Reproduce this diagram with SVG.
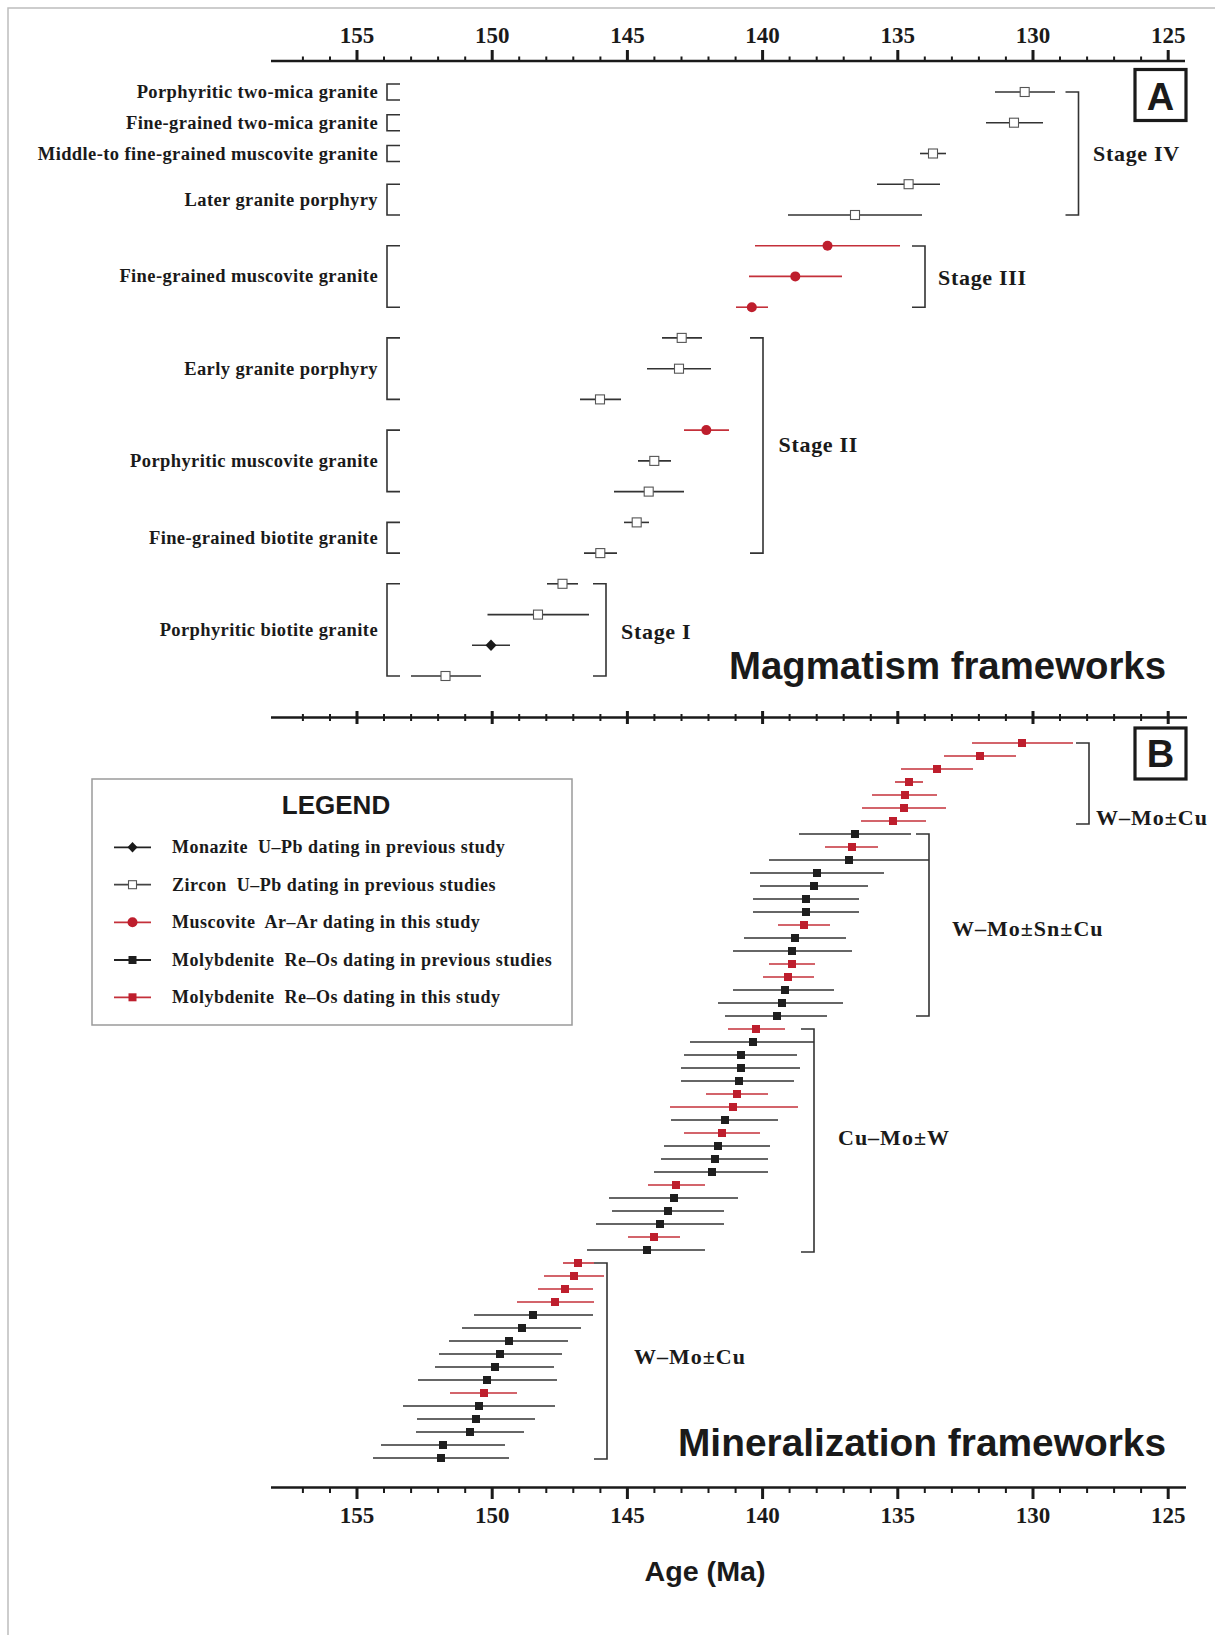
<svg xmlns="http://www.w3.org/2000/svg" xmlns:xlink="http://www.w3.org/1999/xlink" width="1215" height="1635" viewBox="0 0 1215 1635">
<style>
.frame{fill:none;stroke:#bdbdbd;stroke-width:1.5}
.axis{stroke:#1a1a1a;stroke-width:2.6;fill:none}
.tmin{stroke:#1a1a1a;stroke-width:2;fill:none}
.tmaj{stroke:#1a1a1a;stroke-width:3;fill:none}
.num{font-family:"Liberation Serif","Times New Roman",serif;font-weight:bold;font-size:23px;text-anchor:middle;fill:#1a1a1a}
.big{font-family:"Liberation Sans",Arial,sans-serif;font-weight:bold;fill:#1a1a1a}
.lbl{font-family:"Liberation Serif","Times New Roman",serif;font-weight:bold;font-size:18.5px;letter-spacing:0.4px;text-anchor:end;fill:#1a1a1a}
.stg{font-family:"Liberation Serif","Times New Roman",serif;font-weight:bold;font-size:22px;letter-spacing:0.7px;fill:#1a1a1a}
.min{font-family:"Liberation Serif","Times New Roman",serif;font-weight:bold;font-size:22px;letter-spacing:1px;fill:#1a1a1a}
.leg{font-family:"Liberation Serif","Times New Roman",serif;font-weight:bold;font-size:18px;letter-spacing:0.5px;fill:#1a1a1a}
.bar{stroke:#333;stroke-width:1.6;fill:none}
.rbar{stroke:#c4303a;stroke-width:1.6;fill:none}
.zr{fill:#fff;stroke:#555;stroke-width:1.1}
.rc{fill:#be1e2d}
.dm{fill:#1a1a1a}
.ks{fill:#1e1e1e}
.rs{fill:#be1e2d}
.brk{fill:none;stroke:#333;stroke-width:1.6}
.box{fill:none;stroke:#1a1a1a;stroke-width:3.2}
</style>
<rect width="1215" height="1635" fill="#fff"/>
<rect class="frame" x="8" y="8" width="1300" height="1700"/>

<!-- Axes -->
<g id="axis-top">
<path class="axis" d="M271,61H1185"/>
<path class="tmin" d="M302.9,56.5V61M330,56.5V61M384,56.5V61M411.1,56.5V61M438.1,56.5V61M465.2,56.5V61M519.2,56.5V61M546.3,56.5V61M573.3,56.5V61M600.4,56.5V61M654.4,56.5V61M681.5,56.5V61M708.5,56.5V61M735.6,56.5V61M789.6,56.5V61M816.7,56.5V61M843.7,56.5V61M870.8,56.5V61M924.8,56.5V61M951.9,56.5V61M978.9,56.5V61M1005.9,56.5V61M1060,56.5V61M1087.1,56.5V61M1114.1,56.5V61M1141.1,56.5V61"/>
<path class="tmaj" d="M357,50V61M492.2,50V61M627.4,50V61M762.6,50V61M897.8,50V61M1033,50V61M1168.2,50V61"/>
<text class="num" x="357" y="42.5">155</text>
<text class="num" x="492.2" y="42.5">150</text>
<text class="num" x="627.4" y="42.5">145</text>
<text class="num" x="762.6" y="42.5">140</text>
<text class="num" x="897.8" y="42.5">135</text>
<text class="num" x="1033" y="42.5">130</text>
<text class="num" x="1168.2" y="42.5">125</text>
</g>
<g id="axis-mid">
<path class="axis" d="M271,717.5H1187"/>
<path class="tmin" d="M302.9,714V721M330,714V721M384,714V721M411.1,714V721M438.1,714V721M465.2,714V721M519.2,714V721M546.3,714V721M573.3,714V721M600.4,714V721M654.4,714V721M681.5,714V721M708.5,714V721M735.6,714V721M789.6,714V721M816.7,714V721M843.7,714V721M870.8,714V721M924.8,714V721M951.9,714V721M978.9,714V721M1005.9,714V721M1060,714V721M1087.1,714V721M1114.1,714V721M1141.1,714V721"/>
<path class="tmaj" d="M357,711V724M492.2,711V724M627.4,711V724M762.6,711V724M897.8,711V724M1033,711V724M1168.2,711V724"/>
</g>
<g id="axis-bottom">
<path class="axis" d="M271,1487.5H1186"/>
<path class="tmin" d="M302.9,1487.5V1493M330,1487.5V1493M384,1487.5V1493M411.1,1487.5V1493M438.1,1487.5V1493M465.2,1487.5V1493M519.2,1487.5V1493M546.3,1487.5V1493M573.3,1487.5V1493M600.4,1487.5V1493M654.4,1487.5V1493M681.5,1487.5V1493M708.5,1487.5V1493M735.6,1487.5V1493M789.6,1487.5V1493M816.7,1487.5V1493M843.7,1487.5V1493M870.8,1487.5V1493M924.8,1487.5V1493M951.9,1487.5V1493M978.9,1487.5V1493M1005.9,1487.5V1493M1060,1487.5V1493M1087.1,1487.5V1493M1114.1,1487.5V1493M1141.1,1487.5V1493"/>
<path class="tmaj" d="M357,1487.5V1499M492.2,1487.5V1499M627.4,1487.5V1499M762.6,1487.5V1499M897.8,1487.5V1499M1033,1487.5V1499M1168.2,1487.5V1499"/>
<text class="num" x="357" y="1523">155</text>
<text class="num" x="492.2" y="1523">150</text>
<text class="num" x="627.4" y="1523">145</text>
<text class="num" x="762.6" y="1523">140</text>
<text class="num" x="897.8" y="1523">135</text>
<text class="num" x="1033" y="1523">130</text>
<text class="num" x="1168.2" y="1523">125</text>
<text class="big" x="705" y="1581" font-size="28" text-anchor="middle" textLength="121" lengthAdjust="spacingAndGlyphs">Age (Ma)</text>
</g>

<!-- Panel labels -->
<g id="panel-A">
<rect class="box" x="1135" y="69.5" width="51" height="51"/>
<text class="big" x="1160.5" y="110" font-size="38" text-anchor="middle">A</text>
</g>
<g id="panel-B">
<rect class="box" x="1135" y="728" width="51" height="51"/>
<text class="big" x="1160.5" y="767" font-size="38" text-anchor="middle">B</text>
</g>
<g id="title-A"><text class="big" x="1166" y="679" font-size="38" text-anchor="end" textLength="437" lengthAdjust="spacingAndGlyphs">Magmatism frameworks</text></g>
<g id="title-B"><text class="big" x="1166" y="1456" font-size="38" text-anchor="end" textLength="488" lengthAdjust="spacingAndGlyphs">Mineralization frameworks</text></g>

<!-- Rock labels -->
<g id="rock-labels">
<text class="lbl" x="378" y="98">Porphyritic two-mica granite</text>
<text class="lbl" x="378" y="128.7">Fine-grained two-mica granite</text>
<text class="lbl" x="378" y="159.5">Middle-to fine-grained muscovite granite</text>
<text class="lbl" x="378" y="205.6">Later granite porphyry</text>
<text class="lbl" x="378" y="282.4">Fine-grained muscovite granite</text>
<text class="lbl" x="378" y="374.7">Early granite porphyry</text>
<text class="lbl" x="378" y="466.9">Porphyritic muscovite granite</text>
<text class="lbl" x="378" y="543.7">Fine-grained biotite granite</text>
<text class="lbl" x="378" y="635.9">Porphyritic biotite granite</text>
</g>

<!-- Connectors: brackets -->
<g id="connectors">
<path class="brk" d="M400,84H387V100H400"/>
<path class="brk" d="M400,114.7H387V130.7H400"/>
<path class="brk" d="M400,145.5H387V161.5H400"/>
<path class="brk" d="M400,184.2H387V215H400"/>
<path class="brk" d="M400,245.7H387V307.2H400"/>
<path class="brk" d="M400,337.9H387V399.4H400"/>
<path class="brk" d="M400,430.1H387V491.6H400"/>
<path class="brk" d="M400,522.4H387V553.1H400"/>
<path class="brk" d="M400,583.8H387V676H400"/>
<path class="brk" d="M1065.5,92H1078.5V215H1065.5"/>
<path class="brk" d="M912,246H925V307.2H912"/>
<path class="brk" d="M750,337.9H763V553.1H750"/>
<path class="brk" d="M593,583.8H606V676H593"/>
<path class="brk" d="M1076,743H1089V824H1076"/>
<path class="brk" d="M916,834H929V1016H916"/>
<path class="brk" d="M801,1029H814V1252H801"/>
<path class="brk" d="M594,1263H607V1459H594"/>
</g>

<!-- Stage labels -->
<g id="stage-labels">
<text class="stg" x="1093" y="161">Stage IV</text>
<text class="stg" x="938" y="285">Stage III</text>
<text class="stg" x="778.5" y="451.5">Stage II</text>
<text class="stg" x="621" y="639">Stage I</text>
</g>
<g id="ore-labels">
<text class="min" x="1096" y="825">W–Mo±Cu</text>
<text class="min" x="952" y="936">W–Mo±Sn±Cu</text>
<text class="min" x="838" y="1145">Cu–Mo±W</text>
<text class="min" x="634" y="1364">W–Mo±Cu</text>
</g>

<!-- Panel A data -->
<g id="a-data">
<g id="a0"><path class="bar" d="M995,92H1055"/><rect class="zr" x="1020.2" y="87.5" width="9" height="9"/></g>
<g id="a1"><path class="bar" d="M986,122.7H1043"/><rect class="zr" x="1009.5" y="118.2" width="9" height="9"/></g>
<g id="a2"><path class="bar" d="M920,153.5H946"/><rect class="zr" x="928.5" y="149" width="9" height="9"/></g>
<g id="a3"><path class="bar" d="M877,184.2H940"/><rect class="zr" x="904.1" y="179.7" width="9" height="9"/></g>
<g id="a4"><path class="bar" d="M788,215H922"/><rect class="zr" x="850.5" y="210.5" width="9" height="9"/></g>
<g id="a5"><path class="rbar" d="M755,245.7H900"/><circle class="rc" cx="827.5" cy="245.7" r="5"/></g>
<g id="a6"><path class="rbar" d="M749,276.4H842"/><circle class="rc" cx="795.3" cy="276.4" r="5"/></g>
<g id="a7"><path class="rbar" d="M736,307.2H768"/><circle class="rc" cx="751.8" cy="307.2" r="5"/></g>
<g id="a8"><path class="bar" d="M662,337.9H702"/><rect class="zr" x="677.2" y="333.4" width="9" height="9"/></g>
<g id="a9"><path class="bar" d="M647,368.7H711"/><rect class="zr" x="674.5" y="364.2" width="9" height="9"/></g>
<g id="a10"><path class="bar" d="M580,399.4H621"/><rect class="zr" x="595.5" y="394.9" width="9" height="9"/></g>
<g id="a11"><path class="rbar" d="M684,430.1H729"/><circle class="rc" cx="706.3" cy="430.1" r="5"/></g>
<g id="a12"><path class="bar" d="M638,460.9H671"/><rect class="zr" x="649.8" y="456.4" width="9" height="9"/></g>
<g id="a13"><path class="bar" d="M614,491.6H684"/><rect class="zr" x="644.2" y="487.1" width="9" height="9"/></g>
<g id="a14"><path class="bar" d="M624,522.4H649"/><rect class="zr" x="632.2" y="517.9" width="9" height="9"/></g>
<g id="a15"><path class="bar" d="M584,553.1H617"/><rect class="zr" x="595.8" y="548.6" width="9" height="9"/></g>
<g id="a16"><path class="bar" d="M547,583.8H578"/><rect class="zr" x="558" y="579.3" width="9" height="9"/></g>
<g id="a17"><path class="bar" d="M487.5,614.6H589"/><rect class="zr" x="533.5" y="610.1" width="9" height="9"/></g>
<g id="a18"><path class="bar" d="M472,645.3H510"/><path class="dm" d="M491,639.5L496.5,645.3L491,651.1L485.5,645.3Z"/></g>
<g id="a19"><path class="bar" d="M411,676H481"/><rect class="zr" x="441" y="671.5" width="9" height="9"/></g>
</g>

<!-- Panel B data -->
<g id="b-data">
<g id="b1"><path class="rbar" d="M972,743H1073"/><rect class="rs" x="1018" y="739" width="8" height="8"/></g>
<g id="b2"><path class="rbar" d="M944,756H1016"/><rect class="rs" x="976" y="752" width="8" height="8"/></g>
<g id="b3"><path class="rbar" d="M901,769H973"/><rect class="rs" x="933" y="765" width="8" height="8"/></g>
<g id="b4"><path class="rbar" d="M895,782H923"/><rect class="rs" x="905" y="778" width="8" height="8"/></g>
<g id="b5"><path class="rbar" d="M872,795H937"/><rect class="rs" x="901" y="791" width="8" height="8"/></g>
<g id="b6"><path class="rbar" d="M862,808H946"/><rect class="rs" x="900" y="804" width="8" height="8"/></g>
<g id="b7"><path class="rbar" d="M861,821H926"/><rect class="rs" x="889" y="817" width="8" height="8"/></g>
<g id="b8"><path class="bar" d="M799,834H911"/><rect class="ks" x="851" y="830" width="8" height="8"/></g>
<g id="b9"><path class="rbar" d="M825,847H878"/><rect class="rs" x="848" y="843" width="8" height="8"/></g>
<g id="b10"><path class="bar" d="M769,860H929"/><rect class="ks" x="845" y="856" width="8" height="8"/></g>
<g id="b11"><path class="bar" d="M750,873H884"/><rect class="ks" x="813" y="869" width="8" height="8"/></g>
<g id="b12"><path class="bar" d="M760,886H868"/><rect class="ks" x="810" y="882" width="8" height="8"/></g>
<g id="b13"><path class="bar" d="M753,899H859"/><rect class="ks" x="802" y="895" width="8" height="8"/></g>
<g id="b14"><path class="bar" d="M753,912H859"/><rect class="ks" x="802" y="908" width="8" height="8"/></g>
<g id="b15"><path class="rbar" d="M778,925H830"/><rect class="rs" x="800" y="921" width="8" height="8"/></g>
<g id="b16"><path class="bar" d="M744,938H846"/><rect class="ks" x="791" y="934" width="8" height="8"/></g>
<g id="b17"><path class="bar" d="M733,951H852"/><rect class="ks" x="788" y="947" width="8" height="8"/></g>
<g id="b18"><path class="rbar" d="M769,964H815"/><rect class="rs" x="788" y="960" width="8" height="8"/></g>
<g id="b19"><path class="rbar" d="M763,977H814"/><rect class="rs" x="784" y="973" width="8" height="8"/></g>
<g id="b20"><path class="bar" d="M733,990H834"/><rect class="ks" x="781" y="986" width="8" height="8"/></g>
<g id="b21"><path class="bar" d="M718,1003H843"/><rect class="ks" x="778" y="999" width="8" height="8"/></g>
<g id="b22"><path class="bar" d="M725,1016H827"/><rect class="ks" x="773" y="1012" width="8" height="8"/></g>
<g id="b23"><path class="rbar" d="M728,1029H785"/><rect class="rs" x="752" y="1025" width="8" height="8"/></g>
<g id="b24"><path class="bar" d="M690,1042H814"/><rect class="ks" x="749" y="1038" width="8" height="8"/></g>
<g id="b25"><path class="bar" d="M684,1055H797"/><rect class="ks" x="737" y="1051" width="8" height="8"/></g>
<g id="b26"><path class="bar" d="M681,1068H800"/><rect class="ks" x="737" y="1064" width="8" height="8"/></g>
<g id="b27"><path class="bar" d="M681,1081H794"/><rect class="ks" x="735" y="1077" width="8" height="8"/></g>
<g id="b28"><path class="rbar" d="M706,1094H768"/><rect class="rs" x="733" y="1090" width="8" height="8"/></g>
<g id="b29"><path class="rbar" d="M670,1107H798"/><rect class="rs" x="729" y="1103" width="8" height="8"/></g>
<g id="b30"><path class="bar" d="M671,1120H778"/><rect class="ks" x="721" y="1116" width="8" height="8"/></g>
<g id="b31"><path class="rbar" d="M684,1133H760"/><rect class="rs" x="718" y="1129" width="8" height="8"/></g>
<g id="b32"><path class="bar" d="M664,1146H770"/><rect class="ks" x="714" y="1142" width="8" height="8"/></g>
<g id="b33"><path class="bar" d="M661,1159H768"/><rect class="ks" x="711" y="1155" width="8" height="8"/></g>
<g id="b34"><path class="bar" d="M654,1172H768"/><rect class="ks" x="708" y="1168" width="8" height="8"/></g>
<g id="b35"><path class="rbar" d="M648,1185H705"/><rect class="rs" x="672" y="1181" width="8" height="8"/></g>
<g id="b36"><path class="bar" d="M609,1198H738"/><rect class="ks" x="670" y="1194" width="8" height="8"/></g>
<g id="b37"><path class="bar" d="M612,1211H724"/><rect class="ks" x="664" y="1207" width="8" height="8"/></g>
<g id="b38"><path class="bar" d="M596,1224H724"/><rect class="ks" x="656" y="1220" width="8" height="8"/></g>
<g id="b39"><path class="rbar" d="M628,1237H680"/><rect class="rs" x="650" y="1233" width="8" height="8"/></g>
<g id="b40"><path class="bar" d="M587,1250H705"/><rect class="ks" x="643" y="1246" width="8" height="8"/></g>
<g id="b41"><path class="rbar" d="M563,1263H594"/><rect class="rs" x="574" y="1259" width="8" height="8"/></g>
<g id="b42"><path class="rbar" d="M544,1276H604"/><rect class="rs" x="570" y="1272" width="8" height="8"/></g>
<g id="b43"><path class="rbar" d="M538,1289H593"/><rect class="rs" x="561" y="1285" width="8" height="8"/></g>
<g id="b44"><path class="rbar" d="M517,1302H594"/><rect class="rs" x="551" y="1298" width="8" height="8"/></g>
<g id="b45"><path class="bar" d="M474,1315H593"/><rect class="ks" x="529" y="1311" width="8" height="8"/></g>
<g id="b46"><path class="bar" d="M462,1328H581"/><rect class="ks" x="518" y="1324" width="8" height="8"/></g>
<g id="b47"><path class="bar" d="M449,1341H568"/><rect class="ks" x="505" y="1337" width="8" height="8"/></g>
<g id="b48"><path class="bar" d="M439,1354H562"/><rect class="ks" x="496" y="1350" width="8" height="8"/></g>
<g id="b49"><path class="bar" d="M435,1367H554"/><rect class="ks" x="491" y="1363" width="8" height="8"/></g>
<g id="b50"><path class="bar" d="M418,1380H557"/><rect class="ks" x="483" y="1376" width="8" height="8"/></g>
<g id="b51"><path class="rbar" d="M450,1393H517"/><rect class="rs" x="480" y="1389" width="8" height="8"/></g>
<g id="b52"><path class="bar" d="M403,1406H555"/><rect class="ks" x="475" y="1402" width="8" height="8"/></g>
<g id="b53"><path class="bar" d="M417,1419H535"/><rect class="ks" x="472" y="1415" width="8" height="8"/></g>
<g id="b54"><path class="bar" d="M416,1432H524"/><rect class="ks" x="466" y="1428" width="8" height="8"/></g>
<g id="b55"><path class="bar" d="M381,1445H505"/><rect class="ks" x="439" y="1441" width="8" height="8"/></g>
<g id="b56"><path class="bar" d="M373,1458H509"/><rect class="ks" x="437" y="1454" width="8" height="8"/></g>
</g>

<!-- Legend -->
<g id="legend">
<rect x="92" y="779" width="480" height="246" fill="#fff" stroke="#9a9a9a" stroke-width="1.5"/>
<text class="big" x="336" y="814" font-size="26" text-anchor="middle">LEGEND</text>
<g id="leg-monazite"><path d="M114,847.3H151" stroke="#222" stroke-width="1.8"/><path class="dm" d="M132.5,842L137.5,847.3L132.5,852.6L127.5,847.3Z"/><text class="leg" x="172" y="853.3" xml:space="preserve">Monazite  U–Pb dating in previous study</text></g>
<g id="leg-zircon"><path d="M114,884.7H151" stroke="#444" stroke-width="1.8"/><rect class="zr" x="128.5" y="880.7" width="8" height="8"/><text class="leg" x="172" y="890.7" xml:space="preserve">Zircon  U–Pb dating in previous studies</text></g>
<g id="leg-muscovite"><path d="M114,922.3H151" stroke="#c4303a" stroke-width="1.8"/><circle class="rc" cx="132.5" cy="922.3" r="5"/><text class="leg" x="172" y="928.3" xml:space="preserve">Muscovite  Ar–Ar dating in this study</text></g>
<g id="leg-moly-prev"><path d="M114,960H151" stroke="#222" stroke-width="1.8"/><rect class="ks" x="128.5" y="956" width="8" height="8"/><text class="leg" x="172" y="966" xml:space="preserve">Molybdenite  Re–Os dating in previous studies</text></g>
<g id="leg-moly-this"><path d="M114,997.3H151" stroke="#c4303a" stroke-width="1.8"/><rect class="rs" x="128.5" y="993.3" width="8" height="8"/><text class="leg" x="172" y="1003.3" xml:space="preserve">Molybdenite  Re–Os dating in this study</text></g>
</g>
</svg>
